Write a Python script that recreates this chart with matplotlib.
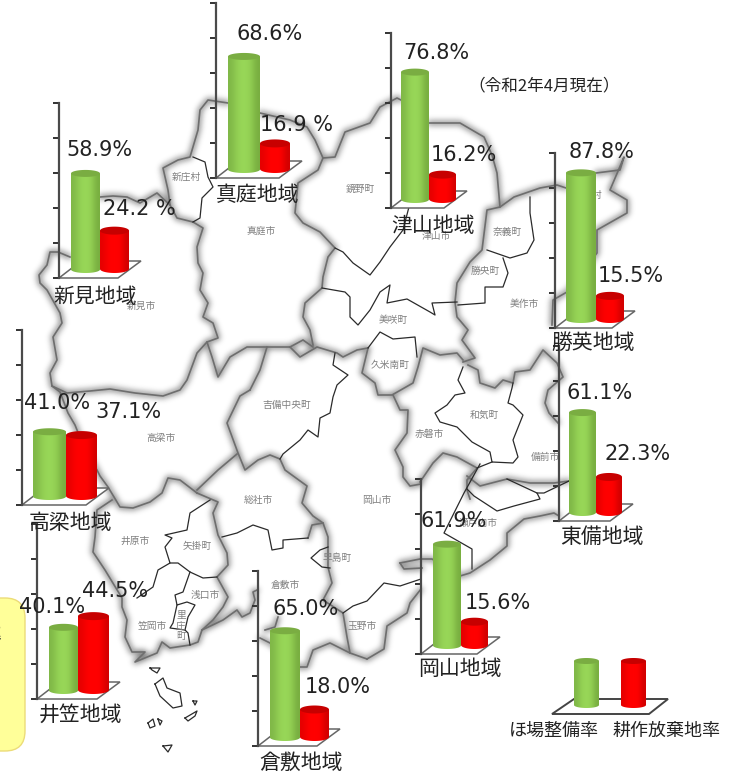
import numpy as np
import matplotlib
matplotlib.use("Agg")
import matplotlib.pyplot as plt
from matplotlib.patches import FancyBboxPatch, Polygon

plt.rcParams['font.family'] = ['Noto Sans CJK JP', 'DejaVu Sans']

# --- Data ---
REGIONS = ["新見地域", "真庭地域", "津山地域", "勝英地域", "高梁地域", "井笠地域", "倉敷地域", "岡山地域", "東備地域"]
FIELD_RATE = [58.9, 68.6, 76.8, 87.8, 41.0, 40.1, 65.0, 61.9, 61.1]
ABANDON_RATE = [24.2, 16.9, 16.2, 15.5, 37.1, 44.5, 18.0, 15.6, 22.3]
LEGEND_LABELS = ["ほ場整備率", "耕作放棄地率"]
DATE_NOTE = "（令和2年4月現在）"
AXIS_TICKS = [0, 20, 40, 60, 80, 100]

# --- Layout in reference pixels ---
W, H = 734, 773
AXIS_X = [59, 216, 391, 555, 22, 37, 258, 421, 559]
AXIS_BOTTOM = [278, 178, 208, 328, 505, 699, 746, 654, 521]
GREEN_X = [71, 228, 401, 566, 33, 49, 270, 433, 569]
RED_X = [100, 260, 429, 596, 66, 78, 300, 461, 596]
RED_END = [129, 290, 456, 624, 97, 109, 329, 488, 622]
FLOOR_TIP = [141, 302, 467, 635, 109, 120, 340, 500, 633]
AXIS_PX = 175
GREEN_TEXT = [(66, 150), (236, 34), (403, 53), (569, 152), (24, 403), (19, 607), (272, 609), (420, 521), (567, 393)]
RED_TEXT = [(103, 209), (260, 125), (431, 155), (598, 276), (95, 412), (82, 591), (305, 687), (465, 603), (605, 454)]
NAME_TEXT = [(53, 297), (216, 195), (391, 226), (551, 343), (29, 523), (39, 715), (259, 763), (418, 669), (560, 537)]
SPACED_PERCENT = {"新見地域", "真庭地域"}

# municipal names printed on the map
PLACES = [("新庄村", 186, 177), ("真庭市", 261, 231), ("鏡野町", 360, 189), ("津山市", 436, 236),
          ("奈義町", 507, 232), ("勝央町", 485, 271), ("美作市", 524, 304), ("美咲町", 393, 320),
          ("久米南町", 390, 365), ("新見市", 141, 306), ("吉備中央町", 287, 405), ("高梁市", 161, 438),
          ("和気町", 484, 415), ("赤磐市", 429, 434), ("備前市", 545, 457), ("総社市", 258, 500),
          ("岡山市", 377, 500), ("井原市", 135, 541), ("矢掛町", 197, 546), ("早島町", 337, 558),
          ("倉敷市", 285, 585), ("浅口市", 205, 595), ("笠岡市", 152, 626), ("玉野市", 362, 626),
          ("瀬戸内市", 478, 523), ("里", 181, 615), ("庄", 181, 626), ("町", 181, 636), ("村", 597, 195)]

# boundaries with the grey glow (district borders and coast)
GLOW_LINES = [
    [(100, 197), (113, 196), (127, 197), (140, 203), (157, 193), (170, 205), (177, 218), (193, 222)],
    [(70, 257), (58, 252), (50, 252), (47, 265), (39, 275), (40, 283), (47, 290), (60, 313), (62, 323),
     (53, 337), (57, 360), (50, 373), (52, 386), (60, 392), (68, 413), (75, 425), (85, 450), (97, 470),
     (100, 476), (108, 487), (120, 507), (133, 508), (150, 502), (162, 493), (168, 478), (180, 480), (197, 493)],
    [(197, 490), (218, 470), (237, 454)],
    [(52, 386), (67, 393), (90, 391), (110, 389), (135, 393), (163, 396), (180, 390), (187, 380), (197, 353), (207, 342)],
    [(193, 222), (203, 228), (197, 247), (198, 263), (203, 273), (200, 290), (208, 303), (203, 317), (213, 323),
     (218, 338), (207, 342), (212, 357), (218, 377), (230, 357), (247, 347), (267, 347), (290, 347), (300, 357),
     (317, 347), (337, 353), (343, 357), (357, 350), (368, 348)],
    [(290, 347), (303, 340), (313, 347)],
    [(170, 205), (168, 190), (163, 168), (178, 160), (190, 157), (198, 130), (200, 110), (208, 100), (228, 103)],
    [(260, 113), (290, 120), (307, 127), (315, 140), (323, 158), (335, 157), (345, 132), (370, 123), (380, 107), (397, 98), (401, 100)],
    [(323, 158), (318, 170), (298, 183), (295, 213), (303, 223), (320, 232), (335, 248), (328, 257), (323, 277),
     (322, 288), (305, 303), (303, 317), (310, 330), (313, 345)],
    [(429, 123), (460, 123), (484, 137), (492, 155), (497, 173), (500, 207), (487, 210), (482, 250),
     (470, 262), (457, 283), (455, 302), (457, 317), (468, 330), (462, 340), (475, 358), (463, 362)],
    [(500, 207), (514, 197), (540, 188), (557, 185), (566, 188)],
    [(596, 173), (620, 170), (624, 157), (610, 190), (627, 200), (627, 213), (597, 230), (597, 253),
     (567, 292), (553, 300), (552, 325)],
    [(368, 348), (362, 373), (375, 383), (378, 395), (392, 395), (413, 383), (418, 367), (423, 348),
     (440, 355), (457, 353), (463, 360)],
    [(468, 365), (478, 370), (480, 383), (495, 388), (503, 380), (513, 383), (515, 372), (530, 370), (543, 350), (557, 363),
     (563, 377), (548, 390), (545, 403), (549, 413), (558, 423)],
    [(393, 395), (400, 410), (408, 410), (407, 433), (395, 450), (403, 467), (403, 477), (410, 486), (421, 484)],
    [(420, 482), (433, 463), (443, 453), (457, 457), (477, 468), (467, 480), (467, 490), (470, 499)],
    [(250, 390), (240, 396), (227, 423), (238, 453), (245, 470), (258, 460), (270, 455), (280, 459), (285, 470),
     (307, 486), (302, 503), (313, 516), (323, 523), (328, 537), (328, 567), (332, 583), (323, 600), (343, 613),
     (347, 637), (350, 653), (330, 643), (313, 650), (307, 667), (297, 667)],
    [(250, 390), (260, 370), (267, 347)],
    [(308, 538), (312, 525), (323, 523)],
    [(197, 493), (218, 502), (213, 513), (218, 535), (227, 553), (228, 565), (217, 577), (228, 597), (223, 607),
     (213, 620), (202, 630), (198, 642), (190, 645), (170, 648), (162, 642), (157, 653), (135, 662), (145, 652),
     (132, 652), (125, 637), (127, 620), (122, 607), (122, 598), (105, 570), (93, 552), (95, 537), (97, 510), (112, 500)],
    [(202, 630), (223, 620), (237, 610), (242, 617), (250, 613), (255, 600), (253, 592), (257, 590)],
    [(260, 638), (270, 643), (290, 660), (297, 667)],
    [(265, 630), (275, 627), (278, 617)],
    [(367, 659), (384, 649), (387, 626), (407, 613), (410, 603), (421, 589)],
    [(350, 653), (367, 659)],
    [(400, 563), (420, 559), (432, 559), (460, 576), (470, 573), (490, 560), (507, 546), (507, 533), (524, 519),
     (540, 516), (554, 513), (559, 516)],
    [(400, 563), (404, 569), (422, 568)],
    [(467, 476), (480, 486), (507, 479), (530, 483), (554, 483), (569, 481)],
]

# thin municipal borders without glow
THIN_LINES = [
    [(193, 157), (205, 162), (208, 177), (213, 187), (202, 198), (200, 218), (193, 222)],
    [(335, 248), (343, 252), (353, 263), (370, 275), (380, 262), (390, 247), (403, 230), (410, 203)],
    [(322, 288), (345, 292), (350, 297), (350, 317), (358, 325), (370, 310), (380, 292), (390, 285), (387, 303),
     (407, 299), (430, 312), (435, 315), (432, 303), (457, 302)],
    [(530, 197), (530, 213), (534, 240), (527, 253), (510, 258), (487, 250)],
    [(503, 258), (508, 273), (503, 287), (485, 287), (485, 303), (458, 305)],
    [(463, 367), (458, 380), (465, 393), (455, 395), (447, 405), (435, 413), (440, 422), (457, 427), (472, 442),
     (490, 452), (492, 462), (513, 463), (518, 457), (513, 440), (523, 415), (513, 405), (508, 403), (512, 388), (513, 383)],
    [(492, 462), (477, 468)],
    [(368, 348), (380, 332), (393, 339), (415, 337), (417, 357)],
    [(335, 353), (333, 365), (348, 375), (337, 385), (333, 397), (330, 413), (320, 418), (318, 437), (308, 430),
     (300, 440), (283, 454), (280, 459)],
    [(222, 537), (237, 533), (253, 525), (268, 530), (272, 550), (283, 548), (283, 540), (308, 538)],
    [(210, 500), (190, 513), (187, 530), (165, 535), (172, 538), (165, 547), (170, 563), (158, 570), (153, 587), (137, 598)],
    [(170, 563), (178, 563), (190, 572), (203, 578), (217, 577)],
    [(190, 572), (183, 592), (175, 595), (177, 605), (187, 602), (195, 605), (188, 617), (185, 630), (188, 633), (190, 645)],
    [(177, 605), (173, 623), (170, 628), (185, 630)],
    [(328, 547), (320, 550), (311, 558), (322, 567), (330, 568)],
    [(343, 613), (353, 606), (367, 601), (384, 583), (400, 586), (421, 579)],
    [(480, 464), (464, 493), (444, 533), (472, 549), (472, 569)],
    [(467, 489), (474, 496), (497, 511), (514, 506), (540, 499), (537, 493), (507, 479)],
    [(537, 493), (544, 493), (569, 481)],
    [(150, 668), (160, 668), (157, 673), (152, 670), (150, 668)],
    [(155, 684), (163, 678), (167, 688), (180, 693), (182, 706), (173, 708), (160, 696), (155, 684)],
    [(148, 723), (153, 719), (155, 726), (150, 728), (148, 723)],
    [(158, 719), (162, 721), (160, 725), (158, 719)],
    [(185, 718), (197, 711), (195, 716), (188, 721), (185, 718)],
    [(193, 701), (197, 701), (195, 705), (193, 701)],
    [(163, 746), (172, 745), (168, 752), (163, 746)],
]


def px_rect(x0, y_top, x1, y_bottom):
    return [x0 / W, 1 - y_bottom / H, (x1 - x0) / W, (y_bottom - y_top) / H]


def glow_image(lines, sigma=3.0):
    """Rasterize the glow lines off screen and blur them, returns a grey image."""
    tmp = plt.figure(figsize=(W / 100, H / 100), dpi=100)
    tax = tmp.add_axes([0, 0, 1, 1])
    tax.set_xlim(0, W)
    tax.set_ylim(H, 0)
    tax.axis('off')
    for line in lines:
        xs, ys = zip(*line)
        tax.plot(xs, ys, color='black', lw=3, solid_capstyle='round', solid_joinstyle='round')
    tmp.canvas.draw()
    ink = 1 - np.asarray(tmp.canvas.buffer_rgba())[:, :, 0] / 255.0
    plt.close(tmp)
    r = np.arange(-10, 11)
    kernel = np.exp(-r ** 2 / (2 * sigma ** 2))
    kernel /= kernel.sum()
    ink = np.apply_along_axis(lambda c: np.convolve(c, kernel, mode='same'), 0, ink)
    ink = np.apply_along_axis(lambda c: np.convolve(c, kernel, mode='same'), 1, ink)
    return 1 - 0.55 * np.clip(ink, 0, 1)


def draw_cylinder(ax, x0, x1, lift, value, colors, cap_color, ry):
    # lift and value are in axis units, the cap ellipse stays inside value
    rx = (x1 - x0) / 2
    cx = x0 + rx
    t = np.linspace(np.pi, 2 * np.pi, 40)
    xs = np.r_[x0, cx + rx * np.cos(t), x1]
    ys = np.r_[lift + value - ry, lift + ry + ry * np.sin(t), lift + value - ry]
    body = Polygon(np.c_[xs, ys], closed=True, facecolor='none', edgecolor='none')
    ax.add_patch(body)
    grad = np.array([colors]).astype(float)
    im = ax.imshow(grad, extent=[x0, x1, lift, lift + value], aspect='auto', zorder=3, interpolation='bicubic')
    im.set_clip_path(body)
    t = np.linspace(0, 2 * np.pi, 60)
    ax.fill(cx + rx * np.cos(t), lift + value - ry + ry * np.sin(t), color=cap_color, zorder=4, lw=0)


GREEN_SHADE = [(0.50, 0.72, 0.28), (0.58, 0.82, 0.33), (0.60, 0.85, 0.35), (0.58, 0.82, 0.33), (0.47, 0.68, 0.25)]
RED_SHADE = [(0.90, 0.0, 0.0), (1.0, 0.0, 0.0), (1.0, 0.0, 0.0), (1.0, 0.0, 0.0), (0.82, 0.0, 0.0)]
GREEN_CAP = (0.48, 0.68, 0.26)
RED_CAP = (0.78, 0.0, 0.0)
UNIT = 100 / AXIS_PX  # axis units per pixel

halo = glow_image(GLOW_LINES)

fig = plt.figure(figsize=(W / 100, H / 100), dpi=100)

# Base map axes uses reference pixels directly
base = fig.add_axes([0, 0, 1, 1])
base.imshow(halo, cmap='gray', vmin=0, vmax=1, extent=[0, W, H, 0], aspect='auto', zorder=0, interpolation='nearest')
base.set_xlim(0, W)
base.set_ylim(H, 0)
base.axis('off')

for line in GLOW_LINES:
    xs, ys = zip(*line)
    base.plot(xs, ys, color='#6e6e6e', lw=1.2, zorder=2)
for line in THIN_LINES:
    xs, ys = zip(*line)
    base.plot(xs, ys, color='#2a2a2a', lw=0.9, zorder=2)
for name, x, y in PLACES:
    base.text(x, y, name, fontsize=7, color='#808080', ha='center', va='center', zorder=2)

# yellow note box running off the left edge, its text is cut by the picture edge
base.add_patch(FancyBboxPatch((-30, 598), 55, 153, boxstyle="round,pad=0,rounding_size=20",
                              facecolor='#ffff99', edgecolor='#ecdc78', lw=1, zorder=2))
base.text(-19, 636, "率", fontsize=15, color='#333333', va='center', zorder=3)

# One small axes per district, 0-100 on the spine
for i, region in enumerate(REGIONS):
    bottom = AXIS_BOTTOM[i]
    width = FLOOR_TIP[i] - AXIS_X[i] + 2
    ax = fig.add_axes(px_rect(AXIS_X[i], bottom - AXIS_PX, AXIS_X[i] + width, bottom))
    ax.patch.set_alpha(0)
    for side in ['top', 'right', 'bottom']:
        ax.spines[side].set_visible(False)
    ax.spines['left'].set_color('#4a4a4a')
    ax.spines['left'].set_linewidth(1.6)
    ax.set_yticks(AXIS_TICKS)
    ax.set_yticklabels([])
    ax.set_xticks([])
    ax.tick_params(axis='y', length=4, width=1.4, color='#333333')

    tip = FLOOR_TIP[i] - AXIS_X[i]
    floor = Polygon([(0, 0), (tip - 23, 0), (tip, 17 * UNIT), (22, 17 * UNIT)], closed=True,
                    facecolor='white', edgecolor='#666666', lw=1.1, zorder=2, clip_on=False)
    ax.add_patch(floor)

    lift = 5 * UNIT
    draw_cylinder(ax, GREEN_X[i] - AXIS_X[i], RED_X[i] - AXIS_X[i], lift, FIELD_RATE[i], GREEN_SHADE, GREEN_CAP, 3.5 * UNIT)
    # the red bars stand a few pixels taller in the original drawing
    draw_cylinder(ax, RED_X[i] - AXIS_X[i], RED_END[i] - AXIS_X[i], lift, ABANDON_RATE[i] + 4 * UNIT, RED_SHADE, RED_CAP, 4 * UNIT)
    ax.set_xlim(0, width)
    ax.set_ylim(0, 100)

# text layer above the small axes
top = fig.add_axes([0, 0, 1, 1])
top.set_xlim(0, W)
top.set_ylim(H, 0)
top.axis('off')
top.patch.set_alpha(0)
for i, region in enumerate(REGIONS):
    gap = " " if region in SPACED_PERCENT else ""
    top.text(*GREEN_TEXT[i], f"{FIELD_RATE[i]:.1f}%", fontsize=15, family='DejaVu Sans', color='#222222', va='center')
    top.text(*RED_TEXT[i], f"{ABANDON_RATE[i]:.1f}{gap}%", fontsize=15, family='DejaVu Sans', color='#222222', va='center')
    top.text(*NAME_TEXT[i], region, fontsize=15, color='#222222', va='center')
top.text(468, 86, DATE_NOTE, fontsize=12, color='#222222', va='center')

# Legend
leg = fig.add_axes(px_rect(545, 650, 675, 716))
leg.axis('off')
leg.patch.set_alpha(0)
leg.add_patch(Polygon([(7, 2), (29, 17), (123, 17), (104, 2)], closed=True, facecolor='white',
                      edgecolor='#444444', lw=1.4, zorder=2))
draw_cylinder(leg, 29, 54, 8, 50, GREEN_SHADE, GREEN_CAP, 3)
draw_cylinder(leg, 76, 101, 8, 50, RED_SHADE, RED_CAP, 3)
leg.set_xlim(0, 130)
leg.set_ylim(0, 66)
top.text(509, 731, LEGEND_LABELS[0], fontsize=13, color='#222222', va='center')
top.text(613, 731, LEGEND_LABELS[1], fontsize=13, color='#222222', va='center')

fig.savefig('out.png', dpi=100)
